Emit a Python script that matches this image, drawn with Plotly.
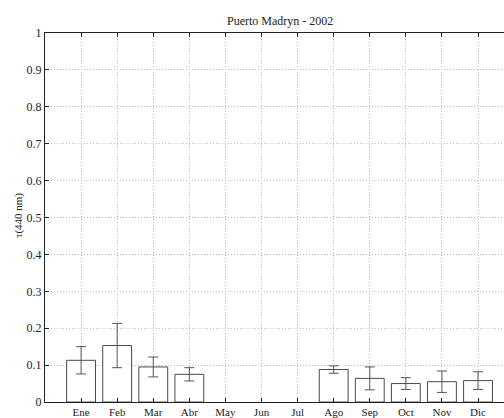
import plotly.graph_objects as go

months = ["Ene", "Feb", "Mar", "Abr", "May", "Jun", "Jul", "Ago", "Sep", "Oct", "Nov", "Dic"]
x_pos = [1, 2, 3, 4, 5, 6, 7, 8, 9, 10, 11, 12]
tau = [0.113, 0.153, 0.095, 0.075, None, None, None, 0.088, 0.064, 0.050, 0.055, 0.058]
err = [0.037, 0.060, 0.027, 0.018, None, None, None, 0.010, 0.031, 0.016, 0.029, 0.024]
y_ticks = [0, 0.1, 0.2, 0.3, 0.4, 0.5, 0.6, 0.7, 0.8, 0.9, 1]
y_labels = ["0", "0.1", "0.2", "0.3", "0.4", "0.5", "0.6", "0.7", "0.8", "0.9", "1"]

font_family = "Liberation Serif, Times New Roman, serif"

fig = go.Figure()
fig.add_trace(go.Bar(
    x=x_pos, y=tau, width=0.8,
    marker=dict(color="white", line=dict(color="#4a4a4a", width=1)),
    error_y=dict(type="data", array=err, visible=True, color="#555555",
                 thickness=1, width=5),
    showlegend=False,
))

fig.update_layout(
    width=504, height=418,
    margin=dict(l=45, r=0, t=33, b=16),
    paper_bgcolor="white", plot_bgcolor="white",
    font=dict(family=font_family, size=12, color="#222222"),
    annotations=[
        dict(text="Puerto Madryn - 2002", x=0.511, y=1, xref="paper", yref="paper",
             showarrow=False, font=dict(size=12, family=font_family, color="#222222"),
             xanchor="center", yanchor="bottom", yshift=3),
        dict(text="τ(440 nm)", x=-0.058, y=0.505, xref="paper", yref="paper",
             showarrow=False, textangle=-90, font=dict(size=11, family=font_family, color="#222222"),
             xanchor="center", yanchor="middle"),
    ],
)

fig.update_xaxes(
    range=[0, 12.72], tickvals=x_pos, ticktext=months,
    ticks="inside", ticklen=4, tickcolor="#222222",
    showline=True, linecolor="#222222", linewidth=1, mirror="ticks",
    showgrid=True, gridcolor="#bdbdbd", griddash="1px,2px", gridwidth=1,
    zeroline=False, automargin=False, tickfont=dict(size=11),
)
fig.update_yaxes(
    range=[0, 1], tickvals=y_ticks, ticktext=y_labels,
    ticks="inside", ticklen=4, tickcolor="#222222",
    showline=True, linecolor="#222222", linewidth=1,
    showgrid=True, gridcolor="#bdbdbd", griddash="1px,2px", gridwidth=1,
    zeroline=False, automargin=False, tickfont=dict(size=12),
)

fig.write_html("out.html")
